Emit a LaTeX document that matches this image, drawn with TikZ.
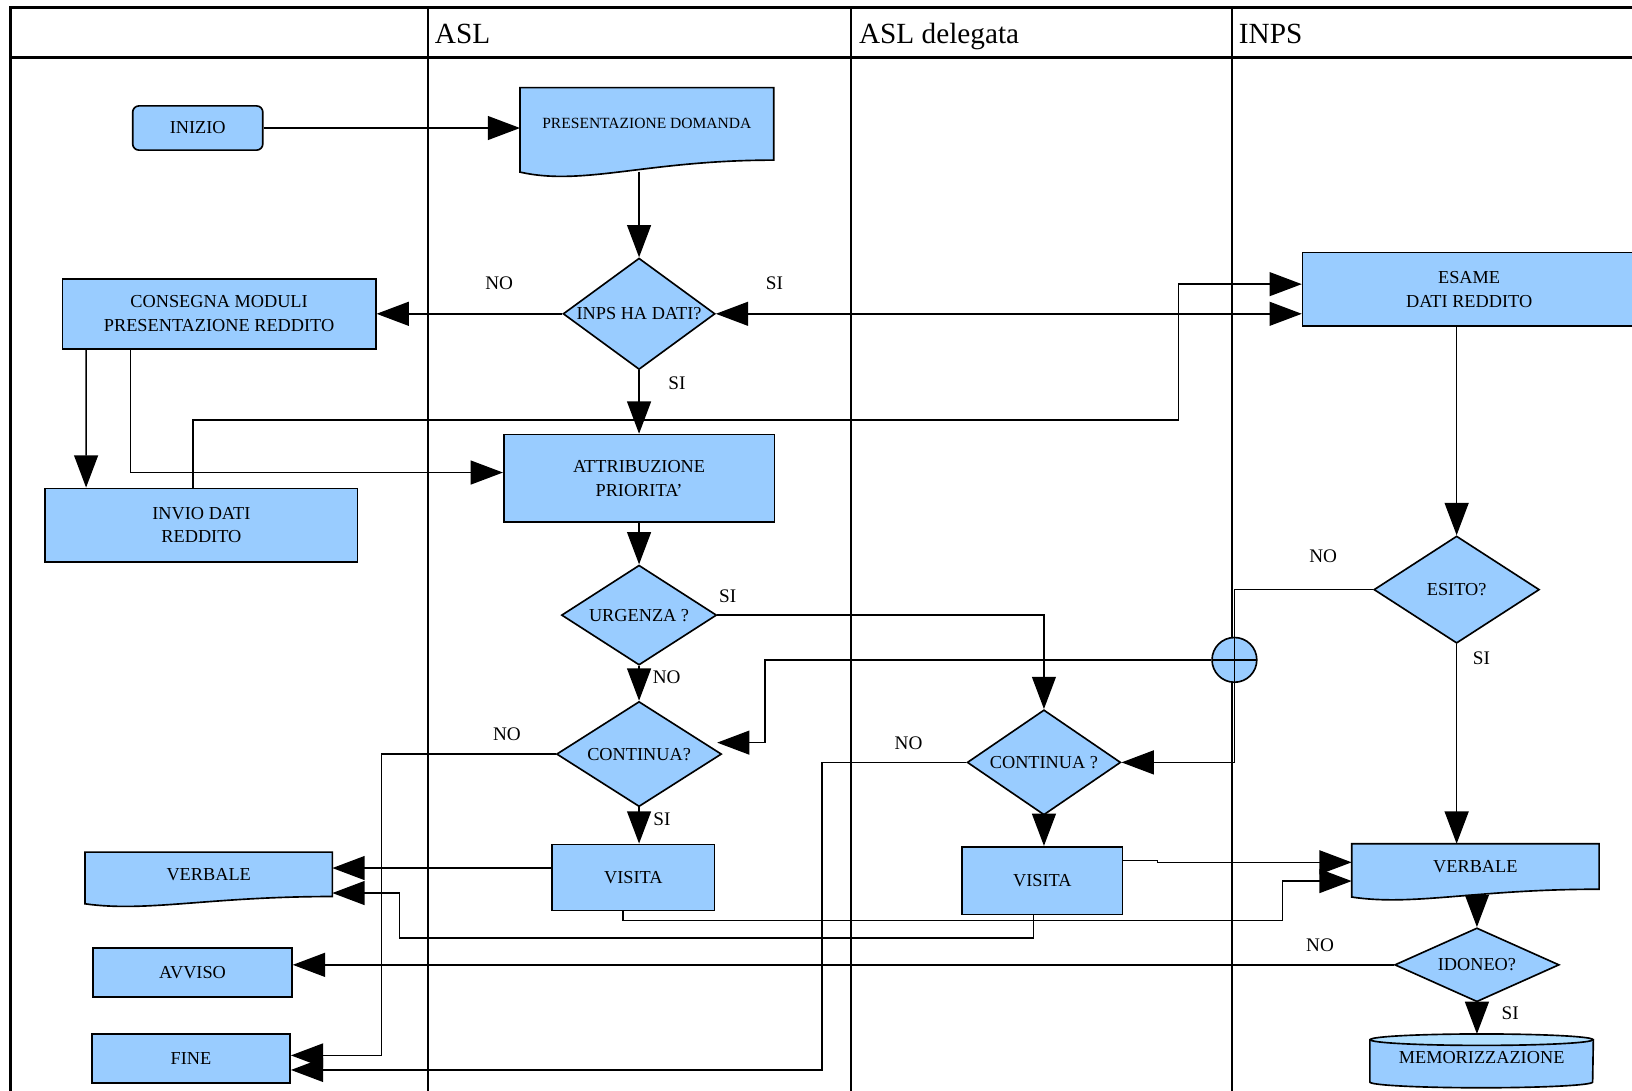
\documentclass[tikz,border=0pt]{standalone}
\usepackage{fontspec}
\setmainfont{Liberation Serif}
\usepackage{tikz}
\usetikzlibrary{arrows.meta, backgrounds, positioning, shapes.geometric, calc}

\definecolor{boxblue}{RGB}{153,204,255}
\definecolor{drumtop}{RGB}{178,224,255}

\newcommand{\docframe}[2]{%
  \begin{scope}[on background layer]
    \draw[line width=0.9pt, fill=boxblue] (#1.north west) -- (#1.north east) -- (#1.south east)
      .. controls ($(#1.south east)!0.5!(#1.south west)$)
      and ($(#1.south east)!0.75!(#1.south west)+(0,-2.2*#2)$)
      .. ($(#1.south west)+(0,-#2)$) -- cycle;
  \end{scope}}

\begin{document}
\begin{tikzpicture}[
    on grid,
    >={Triangle[length=6.2mm, width=4.6mm]},
    box/.style={rectangle, draw, line width=0.9pt, fill=boxblue, inner sep=0pt, align=center, font=\fontsize{10}{13}\selectfont},
    doc/.style={rectangle, inner sep=0pt, align=center, font=\fontsize{10}{13}\selectfont},
    decision/.style={diamond, draw, line width=0.9pt, fill=boxblue, inner sep=0pt, font=\fontsize{10}{13}\selectfont},
    junction/.style={circle, draw, line width=0.9pt, fill=boxblue, minimum size=0.86cm, inner sep=0pt,
      path picture={\draw (path picture bounding box.north) -- (path picture bounding box.south)
        (path picture bounding box.west) -- (path picture bounding box.east);}},
    link/.style={line width=0.8pt},
    lane/.style={line width=1pt},
    lbl/.style={inner sep=0pt, font=\fontsize{10.5}{12}\selectfont},
    head/.style={anchor=base west, inner sep=0pt, font=\fontsize{16}{18}\selectfont},
  ]
  \useasboundingbox (0,0) rectangle (31.36,-20.96);

  \draw[line width=1.4pt] (0.20,-21.2) -- (0.20,-0.14) -- (31.6,-0.14);
  \draw[line width=1.4pt] (0.20,-1.10) -- (31.6,-1.10);
  \foreach \x in {8.22,16.36,23.68}
    \draw[lane] (\x,-0.14) -- (\x,-21.2);
  \node[head] (h1) at (8.35,-0.836) {ASL};
  \node[head] (h2) at (16.50,-0.836) {ASL delegata};
  \node[head] (h3) at (23.80,-0.836) {INPS};

  \node[box, rounded corners=0.12cm, minimum width=2.5cm, minimum height=0.85cm] (ini) at (3.80,-2.46) {INIZIO};
  \node[doc, minimum width=4.86cm, minimum height=1.38cm, font=\fontsize{8.5}{10}\selectfont,
    above right=0.08cm and 8.63cm of ini] (dom) {PRESENTAZIONE DOMANDA};
  \node[decision, minimum width=2.92cm, minimum height=2.14cm, below left=3.65cm and 0.15cm of dom] (dati) {\makebox[0pt]{INPS HA DATI?}};
  \node[box, minimum width=6.02cm, minimum height=1.35cm, left=8.07cm of dati] (cons) {CONSEGNA MODULI\\PRESENTAZIONE REDDITO};
  \node[box, minimum width=6.40cm, minimum height=1.41cm, above right=0.47cm and 15.95cm of dati] (esame) {ESAME\\DATI REDDITO};
  \node[box, minimum width=5.2cm, minimum height=1.68cm, below=3.16cm of dati] (attr) {ATTRIBUZIONE\\PRIORITA'};
  \node[box, minimum width=6.0cm, minimum height=1.41cm, below left=4.06cm and 0.34cm of cons] (invio) {INVIO DATI\\REDDITO};

  \node[decision, minimum width=2.98cm, minimum height=1.92cm, below=2.63cm of attr] (urg) {\makebox[0pt]{URGENZA ?}};
  \node[decision, minimum width=3.17cm, minimum height=2.02cm, below=2.67cm of urg] (cont1) {\makebox[0pt]{CONTINUA?}};
  \node[box, minimum width=3.12cm, minimum height=1.27cm, below left=2.37cm and 0.11cm of cont1] (vis1) {VISITA};
  \node[doc, minimum width=4.74cm, minimum height=0.84cm, above left=0.06cm and 8.16cm of vis1] (verb1) {VERBALE};
  \node[box, minimum width=3.82cm, minimum height=0.94cm, below left=1.89cm and 0.31cm of verb1] (avv) {AVVISO};
  \node[box, minimum width=3.81cm, minimum height=0.94cm, below left=1.65cm and 0.03cm of avv] (fine) {FINE};

  \node[decision, minimum width=3.18cm, minimum height=2.06cm, below left=5.77cm and 0.24cm of esame] (esito) {\makebox[0pt]{ESITO?}};
  \node[junction, below left=1.35cm and 4.27cm of esito] (nodo) {};
  \node[decision, minimum width=2.95cm, minimum height=2.02cm, below right=0.16cm and 7.78cm of cont1] (cont2) {\makebox[0pt]{CONTINUA ?}};
  \node[box, minimum width=3.08cm, minimum height=1.30cm, below left=2.27cm and 0.03cm of cont2] (vis2) {VISITA};
  \node[doc, minimum width=4.74cm, minimum height=0.86cm, below right=5.32cm and 0.36cm of esito] (verb2) {VERBALE};
  \node[decision, minimum width=3.16cm, minimum height=1.42cm, below right=1.89cm and 0.03cm of verb2] (idon) {\makebox[0pt]{IDONEO?}};
  \node[doc, minimum width=4.28cm, minimum height=0.91cm, below right=1.79cm and 0.09cm of idon] (mem) {MEMORIZZAZIONE};

  \docframe{dom}{0.23}
  \docframe{verb1}{0.14}
  \docframe{verb2}{0.15}
  \begin{scope}[on background layer]
    \draw[line width=0.9pt, fill=boxblue] ([yshift=-0.11cm]mem.north west) -- (mem.south west)
      arc[start angle=180, end angle=360, x radius=2.14cm, y radius=0.11cm] -- ([yshift=-0.11cm]mem.north east) -- cycle;
    \draw[line width=0.9pt, fill=drumtop] ([yshift=-0.11cm]mem.north) ellipse [x radius=2.14cm, y radius=0.11cm];
  \end{scope}

  \draw[link, ->] (ini.east) -- (ini.east -| dom.west);
  \draw[link, ->] (dati.north |- dom.south) ++(0,-0.22) -- (dati.north);
  \draw[link, ->] (dati.west) -- node[lbl, pos=0.34, above=0.44cm] {NO} (cons.east);
  \draw[link, <->] (dati.east) -- node[lbl, pos=0.1, above=0.44cm] {SI} (dati.east -| esame.west);
  \draw[link, ->] (dati.south) -- node[lbl, pos=0.2, right=0.55cm] {SI} (attr.north);
  \draw[link, ->] ([xshift=0.47cm]cons.south west) -- ([xshift=0.80cm]invio.north west);
  \draw[link, ->] ([xshift=1.32cm]cons.south west) |- ([yshift=0.11cm]attr.west);
  \draw[link, ->] ([xshift=2.85cm]invio.north west) |- ++(18.94,1.30) |- ([yshift=0.10cm]esame.west);

  \draw[link, ->] (attr.south) -- (urg.north);
  \draw[link, ->] (urg.east) -| node[lbl, pos=0, above right=0.22cm and 0.02cm] {SI} (cont2.north);
  \draw[link, ->] (urg.south) -- node[lbl, pos=0.33, right=0.25cm] {NO} (cont1.north);
  \draw[link, ->] (cont1.west) -| node[lbl, pos=0.14, above=0.24cm] {NO} ([xshift=1.74cm, yshift=0.06cm]fine.east) -- ([yshift=0.06cm]fine.east);
  \draw[link, ->] (cont1.south) -- node[lbl, pos=0.33, right=0.26cm] {SI} (cont1.south |- vis1.north);
  \draw[link, ->] ([yshift=0.18cm]vis1.west) -- ([yshift=0.12cm]verb1.east);
  \draw[link, ->] ([xshift=1.38cm]vis1.south west) |- ++(12.67,-0.18) |- ([yshift=-0.28cm]verb2.west);

  \draw[link] (esito.west) -| node[lbl, pos=0.18, above=0.5cm] {NO} (nodo.north);
  \draw[link, ->] (nodo.south) |- (cont2.east);
  \draw[link, ->] (nodo.west) -| ([xshift=0.82cm, yshift=0.22cm]cont1.east) -- ([xshift=-0.1cm, yshift=0.22cm]cont1.east);
  \draw[link, ->] (cont2.west) -| node[lbl, pos=0.2, above=0.23cm] {NO} ([xshift=10.2cm, yshift=-0.22cm]fine.east) -- ([yshift=-0.22cm]fine.east);
  \draw[link, ->] (cont2.south) -- (cont2.south |- vis2.north);
  \draw[link, ->] ([yshift=0.38cm]vis2.east) -- ++(0.66,0) |- ([yshift=0.08cm]verb2.west);
  \draw[link, ->] ([xshift=1.38cm]vis2.south west) |- ++(-12.18,-0.44) |- ([yshift=-0.36cm]verb1.east);

  \draw[link, ->] (esame.south -| esito.north) -- (esito.north);
  \draw[link, ->] (esito.south) -- node[lbl, pos=0.07, right=0.3cm] {SI} (esito.south |- verb2.north);
  \draw[link, ->] (idon.north |- verb2.south) ++(0,-0.16) -- (idon.north);
  \draw[link, ->] (idon.west) -- node[lbl, pos=0.067, above=0.23cm] {NO} (idon.west -| avv.east);
  \draw[link, ->] (idon.south) -- node[lbl, pos=0.35, right=0.46cm] {SI} (idon.south |- mem.north);
\end{tikzpicture}
\end{document}
